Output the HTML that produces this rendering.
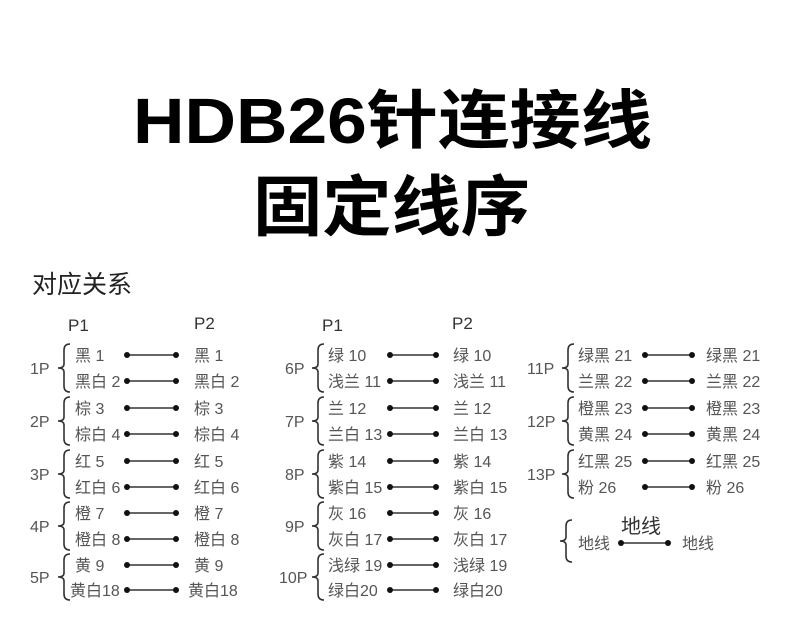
<!DOCTYPE html>
<html><head><meta charset="utf-8"><style>
html,body{margin:0;padding:0;background:#fff;}
svg{display:block;}
text{font-family:"Liberation Sans","Noto Sans CJK SC",sans-serif;}
.t{font-size:16px;fill:#555;}
.p{font-size:17px;fill:#333;}
.l{stroke:#333;stroke-width:1.5;}
.b{fill:none;stroke:#333;stroke-width:1.6;}
</style></head><body>
<svg width="790" height="633" viewBox="0 0 790 633" xmlns="http://www.w3.org/2000/svg">
<text x="133" y="143" font-size="64" font-weight="bold" fill="#000" textLength="519" lengthAdjust="spacingAndGlyphs" font-family="Liberation Sans, Noto Sans CJK SC, sans-serif">HDB26针连接线</text>
<text x="253" y="230" font-size="66" font-weight="bold" fill="#000" textLength="277" lengthAdjust="spacingAndGlyphs">固定线序</text>
<text x="32" y="293" font-size="25" fill="#222">对应关系</text>

<text class="p" x="68" y="331">P1</text><text class="p" x="194" y="329">P2</text>
<text class="p" x="322" y="331">P1</text><text class="p" x="452" y="329">P2</text>

<g id="c1">
<!-- col1 -->
<g class="l">
<line x1="127" y1="355" x2="176" y2="355"/><line x1="127" y1="381" x2="176" y2="381"/>
<line x1="127" y1="408" x2="176" y2="408"/><line x1="127" y1="434" x2="176" y2="434"/>
<line x1="127" y1="461" x2="176" y2="461"/><line x1="127" y1="487" x2="176" y2="487"/>
<line x1="127" y1="513" x2="176" y2="513"/><line x1="127" y1="539" x2="176" y2="539"/>
<line x1="127" y1="565" x2="176" y2="565"/><line x1="127" y1="590" x2="176" y2="590"/>
<line x1="390" y1="355" x2="436" y2="355"/><line x1="390" y1="381" x2="436" y2="381"/>
<line x1="390" y1="408" x2="436" y2="408"/><line x1="390" y1="434" x2="436" y2="434"/>
<line x1="390" y1="461" x2="436" y2="461"/><line x1="390" y1="487" x2="436" y2="487"/>
<line x1="390" y1="513" x2="436" y2="513"/><line x1="390" y1="539" x2="436" y2="539"/>
<line x1="390" y1="565" x2="436" y2="565"/><line x1="390" y1="590" x2="436" y2="590"/>
<line x1="645" y1="355" x2="692" y2="355"/><line x1="645" y1="381" x2="692" y2="381"/>
<line x1="645" y1="408" x2="692" y2="408"/><line x1="645" y1="434" x2="692" y2="434"/>
<line x1="645" y1="461" x2="692" y2="461"/><line x1="645" y1="487" x2="692" y2="487"/>
<line x1="621" y1="543" x2="668" y2="543"/>
</g>
<g fill="#111">
<circle cx="127" cy="355" r="3"/><circle cx="176" cy="355" r="3"/><circle cx="127" cy="381" r="3"/><circle cx="176" cy="381" r="3"/>
<circle cx="127" cy="408" r="3"/><circle cx="176" cy="408" r="3"/><circle cx="127" cy="434" r="3"/><circle cx="176" cy="434" r="3"/>
<circle cx="127" cy="461" r="3"/><circle cx="176" cy="461" r="3"/><circle cx="127" cy="487" r="3"/><circle cx="176" cy="487" r="3"/>
<circle cx="127" cy="513" r="3"/><circle cx="176" cy="513" r="3"/><circle cx="127" cy="539" r="3"/><circle cx="176" cy="539" r="3"/>
<circle cx="127" cy="565" r="3"/><circle cx="176" cy="565" r="3"/><circle cx="127" cy="590" r="3"/><circle cx="176" cy="590" r="3"/>
<circle cx="390" cy="355" r="3"/><circle cx="436" cy="355" r="3"/><circle cx="390" cy="381" r="3"/><circle cx="436" cy="381" r="3"/>
<circle cx="390" cy="408" r="3"/><circle cx="436" cy="408" r="3"/><circle cx="390" cy="434" r="3"/><circle cx="436" cy="434" r="3"/>
<circle cx="390" cy="461" r="3"/><circle cx="436" cy="461" r="3"/><circle cx="390" cy="487" r="3"/><circle cx="436" cy="487" r="3"/>
<circle cx="390" cy="513" r="3"/><circle cx="436" cy="513" r="3"/><circle cx="390" cy="539" r="3"/><circle cx="436" cy="539" r="3"/>
<circle cx="390" cy="565" r="3"/><circle cx="436" cy="565" r="3"/><circle cx="390" cy="590" r="3"/><circle cx="436" cy="590" r="3"/>
<circle cx="645" cy="355" r="3"/><circle cx="692" cy="355" r="3"/><circle cx="645" cy="381" r="3"/><circle cx="692" cy="381" r="3"/>
<circle cx="645" cy="408" r="3"/><circle cx="692" cy="408" r="3"/><circle cx="645" cy="434" r="3"/><circle cx="692" cy="434" r="3"/>
<circle cx="645" cy="461" r="3"/><circle cx="692" cy="461" r="3"/><circle cx="645" cy="487" r="3"/><circle cx="692" cy="487" r="3"/>
<circle cx="621" cy="543" r="3"/><circle cx="668" cy="543" r="3"/>
</g>
<!-- braces -->
<g class="b">
<path d="M70 344 Q64 344 64 350 L64 364 Q64 368 58 368 Q64 368 64 372 L64 386 Q64 392 70 392"/>
<path d="M70 397 Q64 397 64 403 L64 417 Q64 421 58 421 Q64 421 64 425 L64 439 Q64 445 70 445"/>
<path d="M70 450 Q64 450 64 456 L64 470 Q64 474 58 474 Q64 474 64 478 L64 492 Q64 498 70 498"/>
<path d="M70 502 Q64 502 64 508 L64 522 Q64 526 58 526 Q64 526 64 530 L64 544 Q64 550 70 550"/>
<path d="M70 554 Q64 554 64 560 L64 573 Q64 577 58 577 Q64 577 64 581 L64 594 Q64 600 70 600"/>
<path d="M324 344 Q318 344 318 350 L318 364 Q318 368 312 368 Q318 368 318 372 L318 386 Q318 392 324 392"/>
<path d="M324 397 Q318 397 318 403 L318 417 Q318 421 312 421 Q318 421 318 425 L318 439 Q318 445 324 445"/>
<path d="M324 450 Q318 450 318 456 L318 470 Q318 474 312 474 Q318 474 318 478 L318 492 Q318 498 324 498"/>
<path d="M324 502 Q318 502 318 508 L318 522 Q318 526 312 526 Q318 526 318 530 L318 544 Q318 550 324 550"/>
<path d="M324 554 Q318 554 318 560 L318 573 Q318 577 312 577 Q318 577 318 581 L318 594 Q318 600 324 600"/>
<path d="M574 344 Q568 344 568 350 L568 364 Q568 368 562 368 Q568 368 568 372 L568 386 Q568 392 574 392"/>
<path d="M574 397 Q568 397 568 403 L568 417 Q568 421 562 421 Q568 421 568 425 L568 439 Q568 445 574 445"/>
<path d="M574 450 Q568 450 568 456 L568 470 Q568 474 562 474 Q568 474 568 478 L568 492 Q568 498 574 498"/>
<path d="M572 520 Q566 520 566 526 L566 537 Q566 541 560 541 Q566 541 566 545 L566 556 Q566 562 572 562"/>
</g>
</g>

<g class="t">
<text x="30" y="374">1P</text><text x="30" y="427">2P</text><text x="30" y="480">3P</text><text x="30" y="532">4P</text><text x="30" y="583">5P</text>
<text x="75" y="361">黑 1</text><text x="75" y="387">黑白 2</text><text x="75" y="414">棕 3</text><text x="75" y="440">棕白 4</text>
<text x="75" y="467">红 5</text><text x="75" y="493">红白 6</text><text x="75" y="519">橙 7</text><text x="75" y="545">橙白 8</text>
<text x="75" y="571">黄 9</text><text x="70" y="596">黄白18</text>
<text x="194" y="361">黑 1</text><text x="194" y="387">黑白 2</text><text x="194" y="414">棕 3</text><text x="194" y="440">棕白 4</text>
<text x="194" y="467">红 5</text><text x="194" y="493">红白 6</text><text x="194" y="519">橙 7</text><text x="194" y="545">橙白 8</text>
<text x="194" y="571">黄 9</text><text x="188" y="596">黄白18</text>

<text x="285" y="374">6P</text><text x="285" y="427">7P</text><text x="285" y="480">8P</text><text x="285" y="532">9P</text><text x="279" y="583">10P</text>
<text x="328" y="361">绿 10</text><text x="328" y="387">浅兰 11</text><text x="328" y="414">兰 12</text><text x="328" y="440">兰白 13</text>
<text x="328" y="467">紫 14</text><text x="328" y="493">紫白 15</text><text x="328" y="519">灰 16</text><text x="328" y="545">灰白 17</text>
<text x="328" y="571">浅绿 19</text><text x="328" y="596">绿白20</text>
<text x="453" y="361">绿 10</text><text x="453" y="387">浅兰 11</text><text x="453" y="414">兰 12</text><text x="453" y="440">兰白 13</text>
<text x="453" y="467">紫 14</text><text x="453" y="493">紫白 15</text><text x="453" y="519">灰 16</text><text x="453" y="545">灰白 17</text>
<text x="453" y="571">浅绿 19</text><text x="453" y="596">绿白20</text>

<text x="527" y="374">11P</text><text x="527" y="427">12P</text><text x="527" y="480">13P</text>
<text x="578" y="361">绿黑 21</text><text x="578" y="387">兰黑 22</text><text x="578" y="414">橙黑 23</text><text x="578" y="440">黄黑 24</text>
<text x="578" y="467">红黑 25</text><text x="578" y="493">粉 26</text>
<text x="706" y="361">绿黑 21</text><text x="706" y="387">兰黑 22</text><text x="706" y="414">橙黑 23</text><text x="706" y="440">黄黑 24</text>
<text x="706" y="467">红黑 25</text><text x="706" y="493">粉 26</text>
<text x="578" y="549">地线</text><text x="682" y="549">地线</text>
</g>
<text x="621" y="533" font-size="20" fill="#333">地线</text>
</svg>
</body></html>
